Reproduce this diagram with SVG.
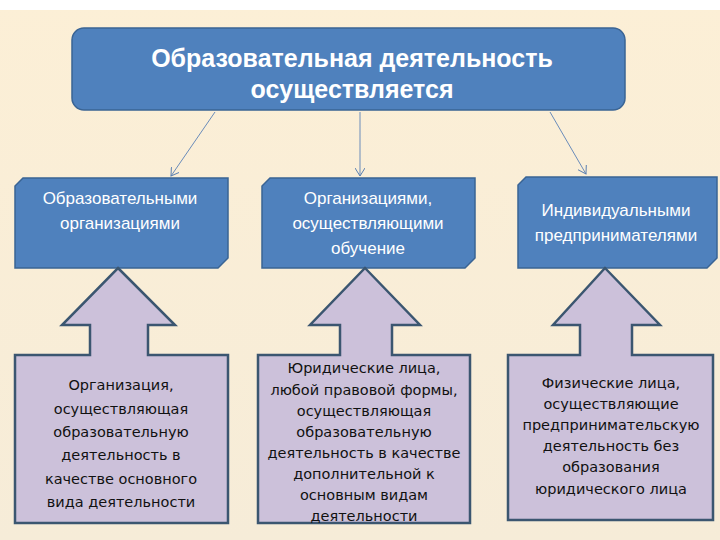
<svg xmlns="http://www.w3.org/2000/svg" width="720" height="540" viewBox="0 0 720 540">
<defs>
<linearGradient id="bg" x1="0" y1="0" x2="0" y2="1"><stop offset="0" stop-color="#fcefd6"/><stop offset="1" stop-color="#f6ecd8"/></linearGradient>
<marker id="ah" markerWidth="10" markerHeight="10" refX="8" refY="5" orient="auto" markerUnits="userSpaceOnUse"><path d="M0,0 L8,5 L0,10" fill="none" stroke="#5a7fb0" stroke-width="1"/></marker>
<style>
.blue{fill:#4f81bd;stroke:#3a6494;stroke-width:1.5}
.lav{fill:#ccc1da;stroke:#3b5670;stroke-width:2.5}
.t1{font-family:"Liberation Sans",Arial,sans-serif;font-weight:bold;font-size:25px;fill:#fff;text-anchor:middle}
.t2{font-family:"Liberation Sans Narrow","Liberation Sans",sans-serif;font-size:17px;fill:#fff;text-anchor:middle}
.t3{font-family:"DejaVu Sans","Liberation Sans",sans-serif;font-size:14.5px;fill:#111;text-anchor:middle}
.c{stroke:#6a8cba;stroke-width:1;fill:none}
</style>
</defs>
<rect width="720" height="540" fill="url(#bg)"/>
<rect width="720" height="10" fill="#fff"/>
<g id="top"><rect class="blue" x="72" y="28" width="553" height="82" rx="12"/>
<text class="t1" x="352" y="67">Образовательная деятельность</text><text class="t1" x="352" y="98">осуществляется</text></g>
<g id="connectors">
<line class="c" x1="215" y1="112" x2="171" y2="176" marker-end="url(#ah)"/>
<line class="c" x1="360" y1="112" x2="360" y2="176" marker-end="url(#ah)"/>
<line class="c" x1="550" y1="112" x2="586" y2="174" marker-end="url(#ah)"/>
</g>
<g id="n1"><path class="blue" d="M23,178 H228 V258 L218,268 H15 V186 Z"/>
<text class="t2" x="120" y="204">Образовательными</text><text class="t2" x="120" y="229">организациями</text></g>
<g id="n2"><path class="blue" d="M270,178 H475 V258 L465,268 H262 V186 Z"/>
<text class="t2" x="368" y="204">Организациями,</text><text class="t2" x="368" y="229">осуществляющими</text><text class="t2" x="368" y="254">обучение</text></g>
<g id="n3"><path class="blue" d="M526,177 H717 V258 L707,268 H518 V185 Z"/>
<text class="t2" x="616" y="216">Индивидуальными</text><text class="t2" x="616" y="241">предпринимателями</text></g>
<g id="b1"><path class="lav" d="M118,268 L175,325 H148 V355 H228 V523 H15 V355 H90 V325 H62 Z"/>
<text class="t3" x="121" y="390">Организация,</text><text class="t3" x="121" y="414">осуществляющая</text><text class="t3" x="121" y="437">образовательную</text><text class="t3" x="121" y="460">деятельность в</text><text class="t3" x="121" y="484">качестве основного</text><text class="t3" x="121" y="507">вида деятельности</text></g>
<g id="b2"><path class="lav" d="M365,268 L420,325 H392 V355 H470 V523 H258 V355 H340 V325 H310 Z"/>
<text class="t3" x="364" y="373">Юридические лица,</text><text class="t3" x="364" y="395">любой правовой формы,</text><text class="t3" x="364" y="416">осуществляющая</text><text class="t3" x="364" y="437">образовательную</text><text class="t3" x="364" y="458">деятельность в качестве</text><text class="t3" x="364" y="479">дополнительной к</text><text class="t3" x="364" y="500">основным видам</text><text class="t3" x="364" y="521">деятельности</text></g>
<g id="b3"><path class="lav" d="M605,268 L660,325 H632 V355 H713 V520 H508 V355 H580 V325 H553 Z"/>
<text class="t3" x="611" y="388">Физические лица,</text><text class="t3" x="611" y="409">осуществляющие</text><text class="t3" x="611" y="430">предпринимательскую</text><text class="t3" x="611" y="451">деятельность без</text><text class="t3" x="611" y="472">образования</text><text class="t3" x="611" y="494">юридического лица</text></g>
</svg>
